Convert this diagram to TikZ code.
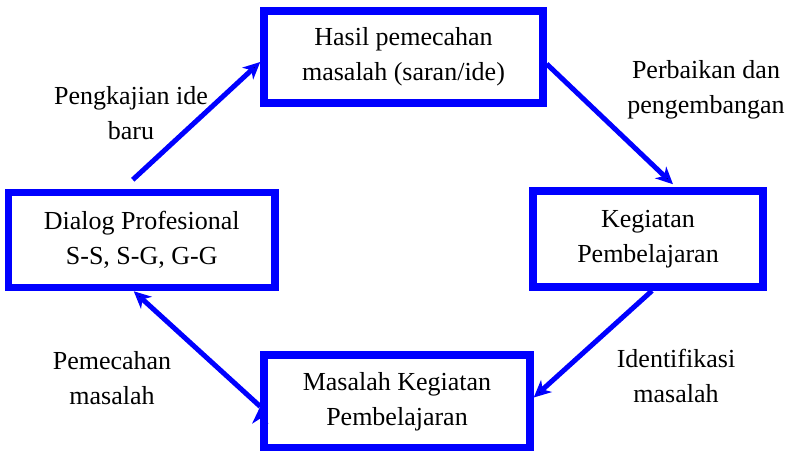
\documentclass[tikz,border=0pt]{standalone}
\usepackage{fontspec}
\setmainfont{Liberation Serif}
\usetikzlibrary{arrows.meta}

\begin{document}
\begin{tikzpicture}[x=1pt,y=1pt,
    kotak/.style={draw=blue,line width=7.5pt,align=center,inner sep=0pt,
      font=\fontsize{26}{35}\selectfont},
    ket/.style={align=center,inner sep=0pt,font=\fontsize{26}{35}\selectfont},
    panah/.style={draw=blue,line width=5pt,-{Stealth[length=17pt,width=16pt,inset=5pt]}}]
    \useasboundingbox (0,0) rectangle (793,452);
    \node[kotak,minimum width=279pt,minimum height=92pt] (hasil) at (403.5,395) {Hasil pemecahan\\masalah (saran/ide)};
    \node[kotak,minimum width=266.5pt,minimum height=95pt] (dialog) at (141.75,212) {Dialog Profesional\\S-S, S-G, G-G};
    \node[kotak,minimum width=230pt,minimum height=96pt] (kegiatan) at (648,213) {Kegiatan\\Pembelajaran};
    \node[kotak,minimum width=266pt,minimum height=92.5pt] (masalah) at (397,50.5) {Masalah Kegiatan\\Pembelajaran};
    \node[ket] (kajian) at (131,338.5) {Pengkajian ide\\baru};
    \node[ket] (perbaikan) at (706,362.5) {Perbaikan dan\\pengembangan};
    \node[ket] (identifikasi) at (676,76.5) {Identifikasi\\masalah};
    \node[ket] (pemecahan) at (112,73.5) {Pemecahan\\masalah};
    \path[panah]
      ([xshift=-9pt,yshift=9pt]dialog.north) edge ([yshift=-5pt]hasil.west)
      ([yshift=-7pt]hasil.east) edge ([xshift=25pt,yshift=3pt]kegiatan.north)
      ([xshift=4pt]kegiatan.south) edge ([yshift=4pt]masalah.east)
      ([yshift=-5pt]masalah.west) edge ([xshift=-8pt]dialog.south);
\end{tikzpicture}
\end{document}
